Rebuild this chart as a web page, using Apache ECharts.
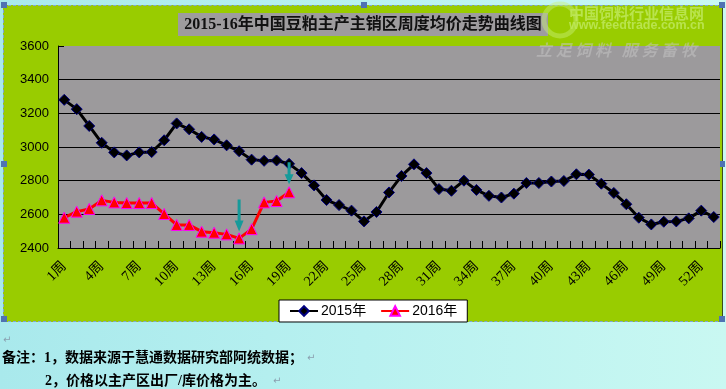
<!DOCTYPE html>
<html>
<head>
<meta charset="utf-8">
<script src="https://cdn.jsdelivr.net/npm/echarts@6/dist/echarts.min.js"></script>
<style>
html,body{margin:0;padding:0;width:726px;height:389px;overflow:hidden;
  background:linear-gradient(to right,#a9e9ec 0%,#b8f1f0 50%,#c9f8f2 100%);}
#bg{position:absolute;left:3px;top:5px;width:718px;height:315px;background:#99cc00;
  border:1px dashed #7fa4d8;border-right:1px solid #3a4a20;}
.h{position:absolute;width:6px;height:6px;background:#4f73b3;}
#chart{position:absolute;left:0;top:0;width:726px;height:389px;}
</style>
</head>
<body>
<div id="bg"></div>
<div class="h" style="left:1px;top:2px"></div>
<div class="h" style="left:361px;top:2px"></div>
<div class="h" style="left:719px;top:2px"></div>
<div class="h" style="left:1px;top:161px"></div>
<div class="h" style="left:719px;top:161px"></div>
<div class="h" style="left:1px;top:316px"></div>
<div class="h" style="left:361px;top:316px"></div>
<div class="h" style="left:719px;top:316px"></div>
<div id="chart"></div>
<script>
var weeks = ["1周","2周","3周","4周","5周","6周","7周","8周","9周","10周",
  "11周","12周","13周","14周","15周","16周","17周","18周","19周","20周",
  "21周","22周","23周","24周","25周","26周","27周","28周","29周","30周",
  "31周","32周","33周","34周","35周","36周","37周","38周","39周","40周",
  "41周","42周","43周","44周","45周","46周","47周","48周","49周","50周",
  "51周","52周","53周"];
var price2015 = [3280,3225,3125,3025,2968,2950,2968,2970,3040,3140,
  3105,3060,3045,3010,2975,2925,2918,2920,2900,2845,
  2772,2685,2655,2622,2558,2614,2730,2828,2897,2845,
  2750,2740,2800,2745,2710,2700,2723,2786,2786,2795,
  2798,2838,2836,2782,2727,2660,2580,2540,2556,2558,
  2576,2622,2584];
var price2016 = [2580,2616,2632,2683,2671,2667,2667,2667,2602,2537,
  2537,2497,2491,2481,2457,2512,2671,2679,2731];
var yTicks = {min:2400, max:3600, step:200};
var seriesNames = ["2015年","2016年"];
var titleText = "2015-16年中国豆粕主产主销区周度均价走势曲线图";
var note1 = "备注：1，数据来源于慧通数据研究部阿统数据；";
var note2 = "2，价格以主产区出厂/库价格为主。";

var arrowIdx1 = 14, arrowIdx2 = 18;

var chart = echarts.init(document.getElementById('chart'), null, {renderer:'canvas'});
var cjk = '"Liberation Serif","Noto Sans CJK SC",serif';
chart.setOption({
  animation:false,
  backgroundColor:'transparent',
  grid:{left:58, right:6, top:46, bottom:141, show:true, backgroundColor:'#9c9a9c', borderWidth:0},
  xAxis:{
    type:'category', data:weeks, boundaryGap:true,
    axisLine:{lineStyle:{color:'#000', width:1}},
    axisTick:{show:true, inside:true, length:7, interval:0, lineStyle:{color:'#000'}},
    axisLabel:{interval:2, rotate:45, margin:16, fontSize:14, color:'#000',
      fontFamily:cjk, textShadowColor:'rgba(60,90,0,0.6)', textShadowOffsetX:1, textShadowOffsetY:1, textShadowBlur:0},
    splitLine:{show:false}
  },
  yAxis:{
    type:'value', min:yTicks.min, max:yTicks.max, interval:yTicks.step,
    axisLine:{show:true, lineStyle:{color:'#000', width:1}},
    axisTick:{show:true, inside:true, length:6, lineStyle:{color:'#000'}},
    axisLabel:{fontSize:13, color:'#000', margin:9, fontFamily:'"Liberation Sans",Arial,sans-serif',
      formatter:function(v){return String(v);}},
    splitLine:{show:true, showMaxLine:false, showMinLine:false, lineStyle:{color:'#000', width:1}}
  },
  legend:{
    left:279, top:300, orient:'horizontal',
    backgroundColor:'#fff', borderColor:'#000', borderWidth:1,
    padding:[4,10,4,10], itemGap:14, itemWidth:28, itemHeight:12,
    textStyle:{fontSize:14, color:'#000', fontFamily:'"Liberation Sans","Noto Sans CJK SC",sans-serif', padding:[0,0,0,-2]},
    data:seriesNames
  },
  graphic:[
    {type:'rect', shape:{x:178, y:13, width:370, height:23}, style:{fill:'#9e9c9e'}, z:1},
    {type:'text', x:363, y:25, style:{text:titleText, fill:'#111', font:'bold 16px '+cjk, align:'center', verticalAlign:'middle'}, z:2},
    {type:'circle', shape:{cx:560, cy:20, r:16}, style:{fill:'none', stroke:'rgba(200,240,120,0.45)', lineWidth:5}, z:1},
    {type:'text', x:569, y:13, style:{text:'中国饲料行业信息网', fill:'rgba(190,232,90,0.85)', font:'bold 15px "Noto Sans CJK SC",sans-serif', align:'left', verticalAlign:'middle'}, z:1},
    {type:'text', x:569, y:26, style:{text:'www.feedtrade.com.cn', fill:'rgba(190,232,90,0.85)', font:'bold 12.5px "Liberation Sans",sans-serif', align:'left', verticalAlign:'middle'}, z:1},
    {type:'text', x:536, y:50, style:{text:'立 足 饲 料   服 务 畜 牧', fill:'rgba(200,200,200,0.5)', font:'italic bold 16px "Noto Sans CJK SC",sans-serif', align:'left', verticalAlign:'middle'}, z:10},
    {type:'text', x:3, y:340, style:{text:'↵', fill:'#8aa0b0', font:'10px "DejaVu Sans",sans-serif', verticalAlign:'middle'}},
    {type:'text', x:2, y:358, style:{text:note1, fill:'#000', font:'bold 14px "Liberation Serif","Noto Sans CJK SC",serif', verticalAlign:'middle'}},
    {type:'text', x:307, y:358, style:{text:'↵', fill:'#8aa0b0', font:'10px "DejaVu Sans",sans-serif', verticalAlign:'middle'}},
    {type:'text', x:45, y:381, style:{text:note2, fill:'#000', font:'bold 14px "Liberation Serif","Noto Sans CJK SC",serif', verticalAlign:'middle'}},
    {type:'text', x:273, y:381, style:{text:'↵', fill:'#8aa0b0', font:'10px "DejaVu Sans",sans-serif', verticalAlign:'middle'}}
  ],
  series:[
    {name:seriesNames[0], type:'line', data:price2015, symbol:'diamond', symbolSize:11, showAllSymbol:true,
      lineStyle:{color:'#000', width:3}, itemStyle:{color:'#000', borderColor:'#000080', borderWidth:1},
      z:3},
    {name:seriesNames[1], type:'line', data:price2016, symbol:'triangle', symbolSize:11, showAllSymbol:true,
      lineStyle:{color:'#ff0000', width:3}, itemStyle:{color:'#ff0000', borderColor:'#ff00ff', borderWidth:1},
      z:4,
      markPoint:{
        label:{show:false},
        itemStyle:{color:'#169a9a'},
        data:[
          {coord:[arrowIdx1, price2016[arrowIdx1]], symbol:'path://M3,0L6,0L6,21L9,21L4.5,32L0,21L3,21Z', symbolSize:[9,32], symbolOffset:[0,-23]},
          {coord:[arrowIdx2, price2016[arrowIdx2]], symbol:'path://M3,0L6,0L6,12L9,12L4.5,22L0,12L3,12Z', symbolSize:[9,22], symbolOffset:[0,-19]}
        ]
      }
    }
  ]
});
</script>
</body>
</html>
